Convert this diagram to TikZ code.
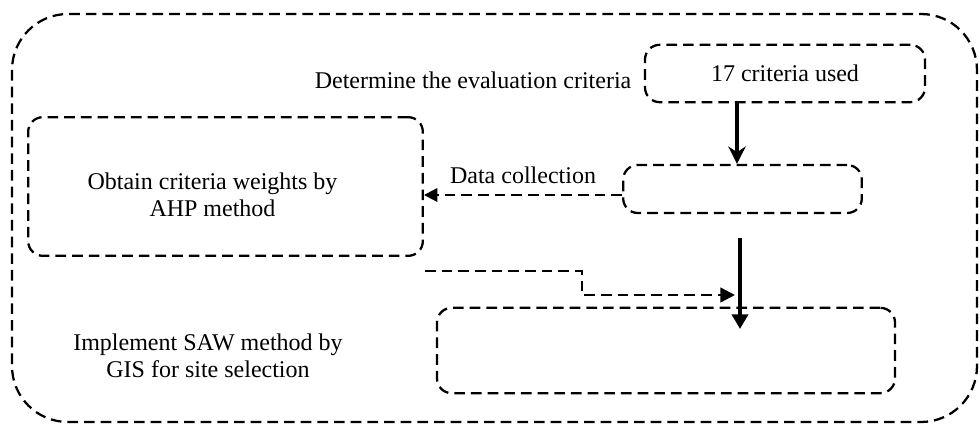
\documentclass[tikz,border=0pt]{standalone}
\usepackage{fontspec}
\setmainfont{Liberation Serif}
\usetikzlibrary{arrows.meta}
\tikzset{
  dashbox/.style={draw,line width=1.7pt,dash pattern=on 8pt off 4.5pt,rounded corners=11pt},
  dashline/.style={line width=1.7pt,dash pattern=on 8pt off 4.5pt},
  flowarrow/.style={line width=3.5pt,-{Triangle[length=11pt,width=12pt]}},
}
\begin{document}
\begin{tikzpicture}[x=0.75pt,y=-0.75pt,font=\fontsize{18}{20.5}\selectfont]
\useasboundingbox (0,0) rectangle (979,424);
\draw[dashbox,rounded corners=42pt] (12,14) rectangle (977,422);
\node[dashbox,minimum width=210pt,minimum height=43pt] (crit) at (785,73.5) {17 criteria used};
\node[dashbox,minimum width=179pt,minimum height=36pt] (data) at (742.5,189) {};
\node[dashbox,minimum width=296pt,minimum height=104pt] (ahp) at (225.5,186.5) {};
\node[dashbox,minimum width=343.5pt,minimum height=64pt] (saw) at (666,350.5) {};
\node[anchor=east] (determ) at (636,80) {Determine the evaluation criteria};
\node[align=center] (obtain) at (212.5,195) {Obtain criteria weights by\\AHP method};
\node (collect) at (523,175) {Data collection};
\node[align=center] (implement) at (208,356) {Implement SAW method by\\GIS for site selection};
\coordinate (ahpout) at (425,271);
\coordinate (bend) at (582,271);
\coordinate (join) at (735,295);
\coordinate (top) at (740,238);
\coordinate (bottom) at (740,329);
\draw[flowarrow,-{Stealth[length=13pt,width=13pt]}] (crit.south -| 737,0) -- (data.north -| 737,0);
\draw[dashline,-{Triangle[length=10pt,width=10pt]}] ([yshift=-4.5pt]data.west) -- ([yshift=-4.5pt]data.west -| ahp.east);
\draw[dashline,-{Triangle[length=11pt,width=11pt]}] (ahpout) -- (bend) |- (join);
\draw[flowarrow] (top) -- (bottom);
\end{tikzpicture}
\end{document}
